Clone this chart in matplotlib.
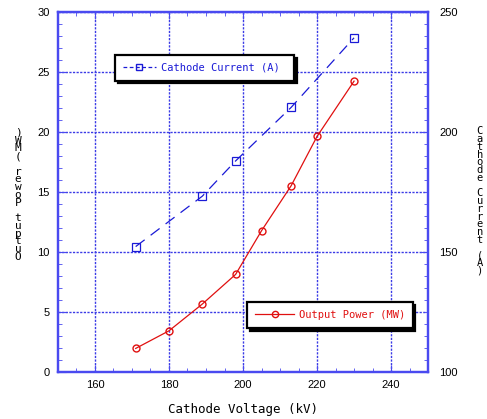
import matplotlib
matplotlib.use('Agg')
import matplotlib.pyplot as plt
from matplotlib.lines import Line2D
from matplotlib.ticker import MultipleLocator

# ── Data ──────────────────────────────────────────────────────────────────────
power_kv = [171, 180, 189, 198, 205, 213, 220, 230]
power_mw = [1.97, 3.44, 5.67, 8.14, 11.78, 15.53, 19.64, 24.25]

current_kv = [171, 189, 198, 213, 230]
current_a = [152.3, 173.3, 188.0, 210.3, 239.3]

x_ticks = [160, 180, 200, 220, 240]
left_ticks = [0, 5, 10, 15, 20, 25, 30]
right_ticks = [100, 150, 200, 250]

# ── Style ─────────────────────────────────────────────────────────────────────
BLUE = '#1a1ad6'
GRID = '#3b3be6'
SPINE = '#4a4af0'
RED = '#e01010'
MONO = 'DejaVu Sans Mono'
plt.rcParams['font.family'] = ['Liberation Sans', 'DejaVu Sans']

fig = plt.figure(figsize=(4.87, 4.19), dpi=100)
ax = fig.add_axes([0.119, 0.112, 0.760, 0.859])
ax2 = ax.twinx()

# ── Curves ────────────────────────────────────────────────────────────────────
ax.plot(power_kv, power_mw, color=RED, lw=0.9, marker='o', ms=5,
        mfc='none', mec=RED, mew=1.0, zorder=4)
ax2.plot(current_kv, current_a, color=BLUE, lw=0.9, dashes=(9, 6),
         marker='s', ms=6, mfc='none', mec=BLUE, mew=0.9, zorder=4)

# ── Axes ──────────────────────────────────────────────────────────────────────
ax.set_xlim(150, 250)
ax.set_ylim(0, 30)
ax2.set_ylim(100, 250)
ax.set_xticks(x_ticks)
ax.set_yticks(left_ticks)
ax2.set_yticks(right_ticks)
ax.xaxis.set_minor_locator(MultipleLocator(5))
ax.yaxis.set_minor_locator(MultipleLocator(1))
ax2.yaxis.set_minor_locator(MultipleLocator(5))

ax.grid(True, which='major', color=GRID, lw=1.0, linestyle=(0, (1.6, 1.0)))
ax.set_axisbelow(True)

for a in (ax, ax2):
    for s in a.spines.values():
        s.set_color(SPINE)
        s.set_linewidth(1.6)
ax.tick_params(axis='x', which='both', direction='in', top=True,
               color=SPINE, labelsize=8, pad=6)
ax.tick_params(axis='x', which='major', length=5)
ax.tick_params(axis='x', which='minor', length=3)
ax.tick_params(axis='y', which='both', direction='in', right=False,
               color=SPINE, labelsize=8, pad=6)
ax.tick_params(axis='y', which='major', length=6)
ax.tick_params(axis='y', which='minor', length=3)
ax2.tick_params(axis='y', which='both', direction='in', color=SPINE,
                labelsize=8, pad=8)
ax2.tick_params(axis='y', which='major', length=6)
ax2.tick_params(axis='y', which='minor', length=3)

ax.set_xlabel('Cathode Voltage (kV)', family=MONO, fontsize=9, labelpad=9)

# stacked vertical axis titles, as in the original
left_title = 'Output Power (MW)'
right_title = 'Cathode Current (A)'
fig.text(0.037, 0.535, '\n'.join(reversed(left_title)), ha='center',
         va='center', fontsize=8, linespacing=0.72, family=MONO)
fig.text(0.985, 0.52, '\n'.join(right_title), ha='center',
         va='center', fontsize=7.5, linespacing=0.72, family=MONO)

# ── Legends ───────────────────────────────────────────────────────────────────
h_cur = Line2D([], [], color=BLUE, lw=0.9, dashes=(3, 2), marker='s',
               ms=5, mfc='none', mec=BLUE)
h_pow = Line2D([], [], color=RED, lw=0.9, marker='o', ms=4.5,
               mfc='none', mec=RED)
shadow = {'color': 'black', 'alpha': 1}
leg1 = ax2.legend([h_cur], ['Cathode Current (A) '], loc='upper left',
                  bbox_to_anchor=(0.154, 0.881), borderaxespad=0,
                  fancybox=False, shadow=shadow, framealpha=1,
                  edgecolor='black', handlelength=3.2, handletextpad=0.5,
                  borderpad=0.75, prop={'family': MONO, 'size': 7.5})
leg1.get_frame().set_linewidth(1.6)
for t in leg1.get_texts():
    t.set_color(BLUE)
ax2.add_artist(leg1)
leg2 = ax2.legend([h_pow], ['Output Power (MW)'], loc='upper left',
                  bbox_to_anchor=(0.511, 0.194), borderaxespad=0,
                  fancybox=False, shadow=shadow, framealpha=1,
                  edgecolor='black', handlelength=3.8, handletextpad=0.4,
                  borderpad=0.75, prop={'family': MONO, 'size': 7.5})
leg2.get_frame().set_linewidth(1.6)
for t in leg2.get_texts():
    t.set_color(RED)

fig.savefig('out.png', dpi=100, facecolor='white')
